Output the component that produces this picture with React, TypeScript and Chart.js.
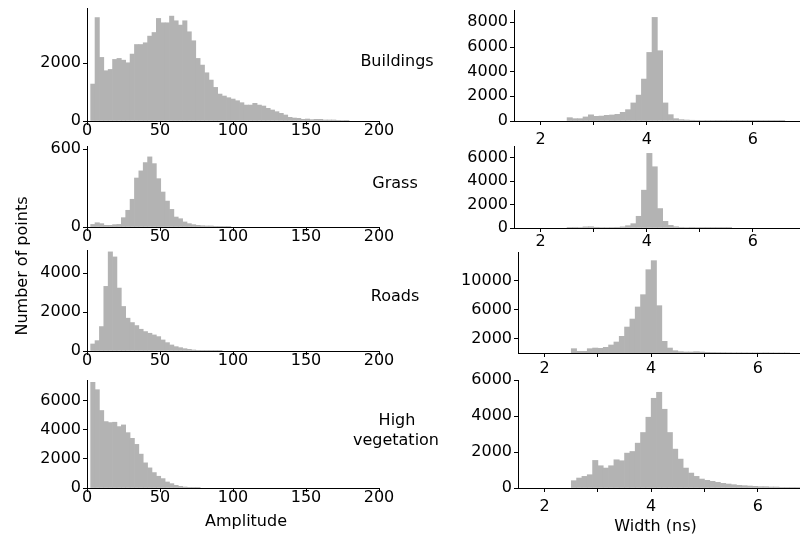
import React, { useEffect, useRef } from "react";
import { Chart, registerables } from "chart.js";

Chart.register(...registerables);

// ---------- data ----------
const classNames = ["Buildings", "Grass", "Roads", "High vegetation"];

// amplitude histograms (bins of width 3 starting at 2.5)
const AMP_BIN_START = 2.5;
const AMP_BIN_WIDTH = 3;
const amplitudeTicks = [0, 50, 100, 150, 200];

const buildingsAmplitude = [1275, 3570, 2195, 1735, 1780, 2125, 2160, 2100, 2010, 2310, 2640, 2640, 2700, 2930, 3055, 3540, 3390, 3390, 3620, 3460, 3310, 3460, 3080, 2770, 2160, 1930, 1665, 1413, 1160, 930, 862, 804, 758, 700, 632, 550, 550, 610, 550, 517, 437, 380, 322, 264, 207, 126, 103, 92, 57, 69, 46, 57, 57, 35, 35, 35, 23, 15, 10];
const grassAmplitude = [20, 33, 26, 13, 13, 18, 20, 72, 129, 214, 378, 433, 497, 541, 489, 373, 270, 200, 136, 77, 64, 39, 26, 18, 13, 10, 8, 8, 5, 5, 3, 2];
const roadsAmplitude = [362, 534, 1258, 3327, 5103, 4844, 3241, 2293, 1690, 1465, 1310, 1120, 1000, 914, 828, 741, 569, 431, 310, 224, 172, 121, 86, 52, 34, 17, 17, 8, 5, 3];
const highVegAmplitude = [7240, 6736, 5310, 4552, 4483, 4506, 4207, 4322, 3793, 3403, 2989, 2322, 1724, 1379, 1057, 805, 644, 414, 299, 184, 115, 69, 46, 20, 10];

// width histograms (bins of width 0.1 ns starting at 2.5)
const WID_BIN_START = 2.5;
const WID_BIN_WIDTH = 0.1;
const widthTicks = [2, 3, 4, 5, 6];

const buildingsWidth = [270, 190, 190, 330, 500, 380, 400, 460, 490, 540, 705, 920, 1465, 2100, 3400, 5560, 8400, 5700, 1465, 515, 190, 110, 80, 60, 50, 40, 35, 30, 25, 20, 20, 15, 15, 10, 10, 10, 10, 8, 8, 5, 5];
const grassWidth = [30, 60, 40, 100, 110, 60, 40, 40, 50, 60, 100, 200, 370, 1000, 3230, 6370, 5230, 1660, 570, 230, 110, 60, 40, 60, 50, 30, 20, 15, 10, 8, 5];
const roadsWidth = [600, 230, 230, 600, 690, 650, 785, 1110, 1525, 2310, 3600, 4710, 6380, 8085, 11550, 12800, 6560, 1620, 690, 320, 185, 140, 140, 185, 140, 90, 70, 60, 50, 40, 30, 30, 25, 20, 20, 20, 30, 20, 15, 10, 10];
const highVegWidth = [406, 554, 646, 738, 1532, 1237, 1108, 1237, 1569, 1514, 1938, 2030, 2492, 3083, 3932, 4984, 5317, 4375, 3083, 2160, 1606, 1108, 830, 646, 498, 425, 370, 314, 258, 221, 185, 148, 130, 110, 92, 74, 74, 55, 55, 37, 37, 37, 20, 20];

const buildingsYTicksAmp = [0, 2000];
const grassYTicksAmp = [0, 600];
const roadsYTicksAmp = [0, 2000, 4000];
const highVegYTicksAmp = [0, 2000, 4000, 6000];
const buildingsYTicksWid = [0, 2000, 4000, 6000, 8000];
const grassYTicksWid = [0, 2000, 4000, 6000];
const roadsYTicksWid = [2000, 6000, 10000];
const highVegYTicksWid = [0, 2000, 4000, 6000];

// ---------- layout / styling ----------
const BAR_COLOR = "#b3b3b3";
const FONT = "DejaVu Sans";
const FONT_SIZE = 16;
const AXIS_W = 90;
const AXIS_H = 40;
const PAD_T = 14;
const PAD_R = 20;

type Panel = {
  values: number[];
  binStart: number;
  binWidth: number;
  xMin: number;
  xMax: number;
  xTicks: number[];
  evenOnly: boolean;
  yMax: number;
  yTicks: number[];
  left: number;
  right: number;
  top: number;
  bottom: number;
  xPad: number;
};

const panels: Panel[] = [
  { values: buildingsAmplitude, binStart: AMP_BIN_START, binWidth: AMP_BIN_WIDTH, xMin: 0, xMax: 200, xTicks: amplitudeTicks, evenOnly: false, yMax: 3900, yTicks: buildingsYTicksAmp, left: 87, right: 379, top: 8, bottom: 121, xPad: -2.5 },
  { values: grassAmplitude, binStart: AMP_BIN_START, binWidth: AMP_BIN_WIDTH, xMin: 0, xMax: 200, xTicks: amplitudeTicks, evenOnly: false, yMax: 625, yTicks: grassYTicksAmp, left: 87, right: 379, top: 146, bottom: 227, xPad: -2.5 },
  { values: roadsAmplitude, binStart: AMP_BIN_START, binWidth: AMP_BIN_WIDTH, xMin: 0, xMax: 200, xTicks: amplitudeTicks, evenOnly: false, yMax: 5200, yTicks: roadsYTicksAmp, left: 87, right: 379, top: 250, bottom: 351, xPad: -2.5 },
  { values: highVegAmplitude, binStart: AMP_BIN_START, binWidth: AMP_BIN_WIDTH, xMin: 0, xMax: 200, xTicks: amplitudeTicks, evenOnly: false, yMax: 7400, yTicks: highVegYTicksAmp, left: 87, right: 379, top: 380, bottom: 488, xPad: -2.5 },
  { values: buildingsWidth, binStart: WID_BIN_START, binWidth: WID_BIN_WIDTH, xMin: 1.5, xMax: 7, xTicks: widthTicks, evenOnly: true, yMax: 9000, yTicks: buildingsYTicksWid, left: 514, right: 806, top: 10, bottom: 121, xPad: 6.5 },
  { values: grassWidth, binStart: WID_BIN_START, binWidth: WID_BIN_WIDTH, xMin: 1.5, xMax: 7, xTicks: widthTicks, evenOnly: true, yMax: 7000, yTicks: grassYTicksWid, left: 514, right: 806, top: 146, bottom: 228, xPad: 2 },
  { values: roadsWidth, binStart: WID_BIN_START, binWidth: WID_BIN_WIDTH, xMin: 1.5, xMax: 7, xTicks: widthTicks, evenOnly: true, yMax: 14000, yTicks: roadsYTicksWid, left: 518, right: 811, top: 252, bottom: 353, xPad: 4 },
  { values: highVegWidth, binStart: WID_BIN_START, binWidth: WID_BIN_WIDTH, xMin: 1.5, xMax: 7, xTicks: widthTicks, evenOnly: true, yMax: 6000, yTicks: highVegYTicksWid, left: 518, right: 811, top: 380, bottom: 488, xPad: 6.5 },
];

function zeroPadding(s: any) {
  s.paddingLeft = 0;
  s.paddingRight = 0;
  s.paddingTop = 0;
  s.paddingBottom = 0;
}

function HistPanel({ p }: { p: Panel }) {
  const ref = useRef<HTMLCanvasElement>(null);
  const w = p.right - p.left + AXIS_W + PAD_R;
  const h = p.bottom - p.top + PAD_T + AXIS_H;
  useEffect(() => {
    if (!ref.current) return;
    const data = p.values.map((v, i) => ({ x: p.binStart + p.binWidth * (i + 0.5), y: v }));
    const tickFont = { family: FONT, size: FONT_SIZE, lineHeight: 1 };
    const chart = new Chart(ref.current, {
      type: "bar",
      data: {
        datasets: [
          {
            data: data as any,
            backgroundColor: BAR_COLOR,
            borderWidth: 0,
            barPercentage: 1,
            categoryPercentage: 1,
          },
        ],
      },
      options: {
        animation: false,
        responsive: false,
        maintainAspectRatio: false,
        events: [],
        layout: { padding: { left: 0, top: PAD_T, right: PAD_R, bottom: 0 } },
        plugins: { legend: { display: false }, tooltip: { enabled: false } },
        scales: {
          x: {
            type: "linear",
            min: p.xMin,
            max: p.xMax,
            offset: false,
            z: 1,
            grid: { offset: false, drawOnChartArea: false, drawTicks: true, tickLength: 4, color: "#000", lineWidth: 1 },
            border: { display: true, color: "#000", width: 1 },
            ticks: {
              color: "#000",
              font: tickFont,
              padding: p.xPad,
              maxRotation: 0,
              autoSkip: false,
              callback: (v: any) => (p.evenOnly && Number(v) % 2 !== 0 ? "" : String(v)),
            },
            afterBuildTicks: (s: any) => {
              s.ticks = p.xTicks.map((v) => ({ value: v }));
            },
            afterFit: (s: any) => {
              s.height = AXIS_H;
              zeroPadding(s);
            },
          },
          y: {
            type: "linear",
            min: 0,
            max: p.yMax,
            z: 1,
            grid: { drawOnChartArea: false, drawTicks: true, tickLength: 4, color: "#000", lineWidth: 1 },
            border: { display: true, color: "#000", width: 1 },
            ticks: { color: "#000", font: tickFont, padding: 2, autoSkip: false, callback: (v: any) => String(v) },
            afterBuildTicks: (s: any) => {
              s.ticks = p.yTicks.map((v) => ({ value: v }));
            },
            afterFit: (s: any) => {
              s.width = AXIS_W;
              zeroPadding(s);
            },
          },
        },
      } as any,
    });
    return () => chart.destroy();
  }, []);
  return (
    <canvas
      ref={ref}
      width={w}
      height={h}
      style={{ position: "absolute", left: p.left - AXIS_W, top: p.top - PAD_T, width: w, height: h }}
    />
  );
}

// text label: cx = horizontal centre, baseline = y of text baseline
const BASELINE_OFFSET = 13.5;
function Label({ text, cx, baseline }: { text: string; cx: number; baseline: number }) {
  return (
    <div
      style={{
        position: "absolute",
        left: cx - 100,
        top: baseline - BASELINE_OFFSET,
        width: 200,
        textAlign: "center",
        fontFamily: FONT,
        fontSize: FONT_SIZE,
        lineHeight: FONT_SIZE + "px",
        color: "#000",
        whiteSpace: "nowrap",
      }}
    >
      {text}
    </div>
  );
}

export default function App() {
  const [hv1, hv2] = classNames[3].split(" ");
  return (
    <div
      style={{
        position: "fixed",
        left: 0,
        top: 0,
        width: 800,
        height: 535,
        overflow: "hidden",
        background: "#fff",
      }}
    >
      {panels.map((p, i) => (
        <HistPanel key={i} p={p} />
      ))}
      <Label text={classNames[0]} cx={397} baseline={66.7} />
      <Label text={classNames[1]} cx={395} baseline={188.3} />
      <Label text={classNames[2]} cx={395} baseline={301.7} />
      <Label text={hv1} cx={397} baseline={425.7} />
      <Label text={hv2} cx={396} baseline={445} />
      <Label text="Amplitude" cx={246} baseline={526} />
      <Label text="Width (ns)" cx={655.5} baseline={531.7} />
      <div
        style={{
          position: "absolute",
          left: 21.5 - 100,
          top: 266 - 8,
          width: 200,
          height: 16,
          textAlign: "center",
          fontFamily: FONT,
          fontSize: FONT_SIZE,
          lineHeight: FONT_SIZE + "px",
          transform: "rotate(-90deg)",
          transformOrigin: "50% 50%",
          whiteSpace: "nowrap",
        }}
      >
        Number of points
      </div>
    </div>
  );
}
